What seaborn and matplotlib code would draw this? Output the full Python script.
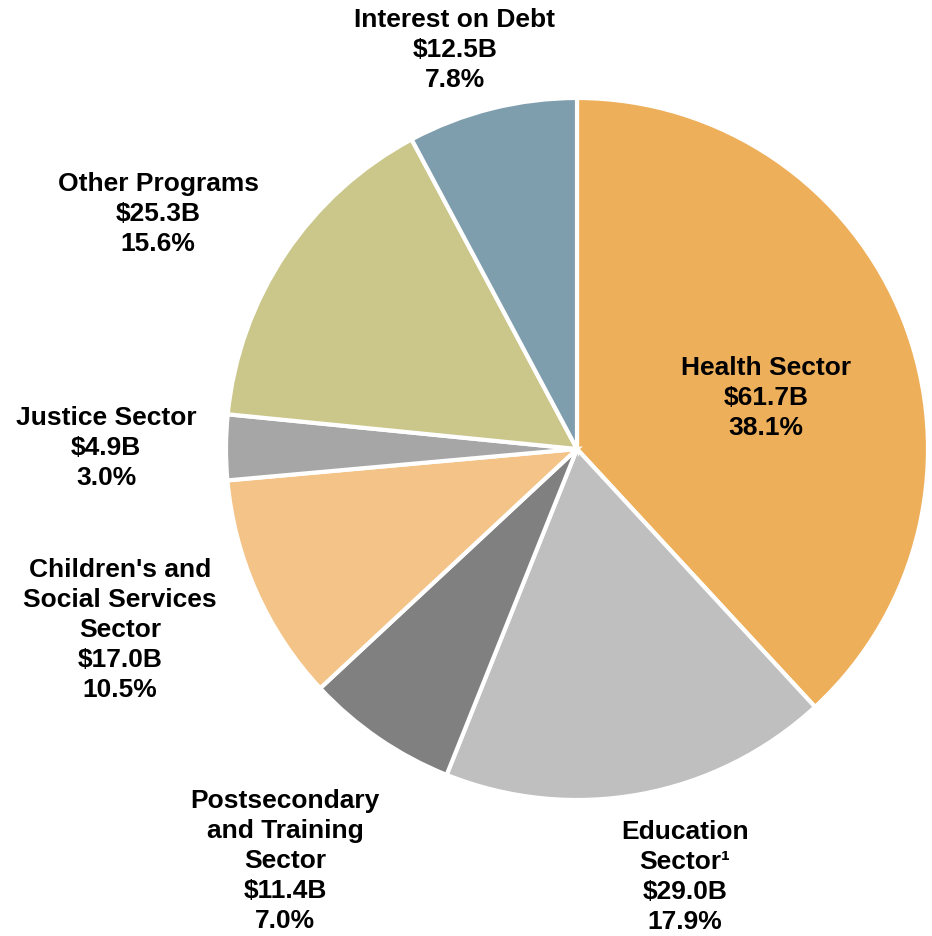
import matplotlib
matplotlib.use("Agg")
import matplotlib.pyplot as plt
import seaborn as sns

sectors = ["Health Sector", "Education\nSector\u00b9", "Postsecondary\nand Training\nSector",
           "Children's and\nSocial Services\nSector", "Justice Sector", "Other Programs",
           "Interest on Debt"]
amounts = [61.7, 29.0, 11.4, 17.0, 4.9, 25.3, 12.5]
shares = [38.1, 17.9, 7.0, 10.5, 3.0, 15.6, 7.8]
colors = ["#EEAF5A", "#BFBFBF", "#808080", "#F3C387", "#A6A6A6", "#CBC68A", "#7F9EAD"]

sns.set_theme(style="white")
plt.rcParams["font.family"] = ["Liberation Sans", "DejaVu Sans"]

W, H = 932, 936
fig = plt.figure(figsize=(W / 100, H / 100), dpi=100)
ax = fig.add_axes([0, 0, 1, 1])

cx, cy, r = 577, H - 449, 351
ax.pie(shares, colors=colors, startangle=90, counterclock=False,
       center=(cx, cy), radius=r, frame=True,
       wedgeprops=dict(edgecolor="white", linewidth=3))
ax.set_xlim(0, W)
ax.set_ylim(0, H)
ax.set_aspect("equal")
ax.axis("off")

# label anchor points (pixel coords from top-left)
label_pos = [(766, 398), (685, 877), (285, 861), (120, 630), (106, 448), (158, 214), (455, 50)]
for name, amt, pct, (x, y) in zip(sectors, amounts, shares, label_pos):
    ax.text(x, H - y, f"{name}\n${amt:.1f}B\n{pct:.1f}%", ha="center", va="center",
            fontsize=19, fontweight="bold", color="black", linespacing=1.32)

fig.savefig("out.png", dpi=100)
